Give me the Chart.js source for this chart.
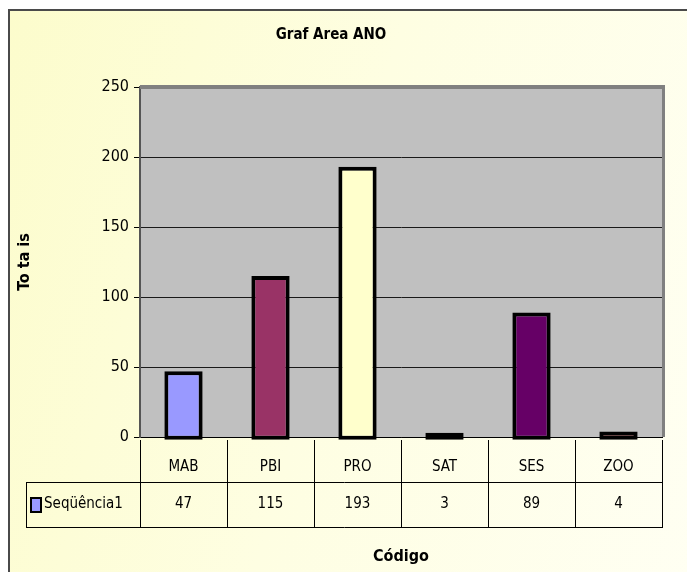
<!DOCTYPE html>
<html>
<head>
<meta charset="utf-8">
<title>Graf Area ANO</title>
<script src="https://cdn.jsdelivr.net/npm/chart.js@4.4.0/dist/chart.umd.min.js"></script>
<style>
  html, body { margin: 0; padding: 0; background: #fff; overflow: hidden; }
  #wrap { position: relative; width: 687px; height: 572px; }
  #frame {
    position: absolute; left: 8px; top: 9px; width: 720px; height: 600px;
    border-left: 2px solid #4a4a4a; border-top: 2px solid #4a4a4a;
    background: linear-gradient(105deg, #fcfccc 0%, #fefee2 45%, #fffff4 100%);
  }
  #chart { position: absolute; left: 0; top: 0; }
</style>
</head>
<body>
<div id="wrap">
  <div id="frame"></div>
  <canvas id="chart" width="687" height="572"></canvas>
</div>
<script>
// data
var categories = ['MAB', 'PBI', 'PRO', 'SAT', 'SES', 'ZOO'];
var values = [47, 115, 193, 3, 89, 4];
var seriesName = 'Seq\u00fc\u00eancia1';
var barColors = ['#9999FF', '#993366', '#FFFFCC', '#CCFFFF', '#660066', '#FF8080'];
var yTicks = [0, 50, 100, 150, 200, 250];

var narrow = '"Liberation Sans Narrow", "Arial Narrow", "DejaVu Sans Condensed", sans-serif';

// plot background, gray frame, and the data table under the axis
var excelLook = {
  id: 'excelLook',
  beforeDraw: function (chart) {
    var a = chart.chartArea, ctx = chart.ctx;
    ctx.save();
    ctx.fillStyle = '#C0C0C0';
    ctx.fillRect(a.left, a.top, a.right - a.left, a.bottom - a.top);
    ctx.restore();
  },
  afterDraw: function (chart) {
    var a = chart.chartArea, ctx = chart.ctx, x = chart.scales.x;
    var rowH = 45;
    var row1 = a.bottom, row2 = a.bottom + rowH, row3 = a.bottom + 2 * rowH;
    var tableLeft = 26, tableRight = a.right + 1;
    ctx.save();
    // gray frame on top and right
    ctx.fillStyle = '#808080';
    ctx.fillRect(a.left, a.top - 2, a.right - a.left + 3, 4);
    ctx.fillRect(a.right, a.top - 2, 3, a.bottom - a.top + 2);

    // table lines
    ctx.strokeStyle = '#000';
    ctx.lineWidth = 1;
    ctx.beginPath();
    ctx.moveTo(tableLeft, row2 + 0.5); ctx.lineTo(tableRight, row2 + 0.5);
    ctx.moveTo(tableLeft, row3 + 0.5); ctx.lineTo(tableRight, row3 + 0.5);
    ctx.moveTo(tableLeft + 0.5, row2); ctx.lineTo(tableLeft + 0.5, row3);
    var step = (a.right - a.left) / categories.length;
    for (var i = 0; i <= categories.length; i++) {
      var bx = Math.round(x.getPixelForValue(i) - step / 2) + 0.5;
      if (i === categories.length) bx = tableRight - 0.5;
      ctx.moveTo(bx, row1 + 3); ctx.lineTo(bx, row3);
    }
    ctx.stroke();

    // values row
    ctx.fillStyle = '#000';
    ctx.font = '15px ' + narrow;
    ctx.textAlign = 'center';
    ctx.textBaseline = 'middle';
    values.forEach(function (v, i) {
      ctx.fillText(String(v), x.getPixelForValue(i), row2 + rowH / 2);
    });

    // legend key + series name
    ctx.fillStyle = '#000';
    ctx.fillRect(30, 497, 12, 16);
    ctx.fillStyle = barColors[0];
    ctx.fillRect(32, 499, 8, 12);
    ctx.fillStyle = '#000';
    ctx.textAlign = 'left';
    ctx.fillText(seriesName, 44, row2 + rowH / 2);
    ctx.restore();
  }
};

new Chart(document.getElementById('chart'), {
  type: 'bar',
  data: {
    labels: categories,
    datasets: [{
      label: seriesName,
      data: values,
      base: -2, // outline hangs just below the axis, as in Excel
      clip: 6,
      backgroundColor: barColors,
      borderColor: '#000',
      borderWidth: 4,
      borderSkipped: false,
      barPercentage: 0.44,
      categoryPercentage: 1
    }]
  },
  options: {
    responsive: false,
    devicePixelRatio: 1,
    animation: false,
    layout: { padding: { left: 0, top: 18, right: 25, bottom: 0 } },
    plugins: {
      legend: { display: false },
      tooltip: { enabled: false },
      title: {
        display: true,
        text: 'Graf Area ANO',
        color: '#000',
        font: { family: narrow, size: 15, weight: 'bold' },
        padding: { top: 8, bottom: 43 }
      }
    },
    scales: {
      x: {
        grid: { display: false },
        border: { display: true, color: '#000', width: 1 },
        ticks: { color: '#000', padding: 13, font: { family: narrow, size: 15 } },
        title: {
          display: true,
          text: 'C\u00f3digo',
          color: '#000',
          font: { family: narrow, size: 16, weight: 'bold' },
          padding: { top: 0, bottom: 6 }
        },
        afterFit: function (scale) { scale.height = 135; }
      },
      y: {
        min: 0,
        max: 250,
        afterBuildTicks: function (scale) {
          scale.ticks = yTicks.map(function (v) { return { value: v }; });
        },
        grid: { color: '#1a1a1a', lineWidth: 1, tickLength: 6, tickColor: '#000' },
        border: { display: true, color: '#555', width: 2 },
        ticks: { color: '#000', padding: 5, font: { family: narrow, size: 16 } },
        title: {
          display: true,
          text: 'To ta is',
          color: '#000',
          font: { family: narrow, size: 16, weight: 'bold' },
          padding: { top: 15, bottom: 0 }
        },
        afterFit: function (scale) { scale.width = 140; }
      }
    }
  },
  plugins: [excelLook]
});
</script>
</body>
</html>
